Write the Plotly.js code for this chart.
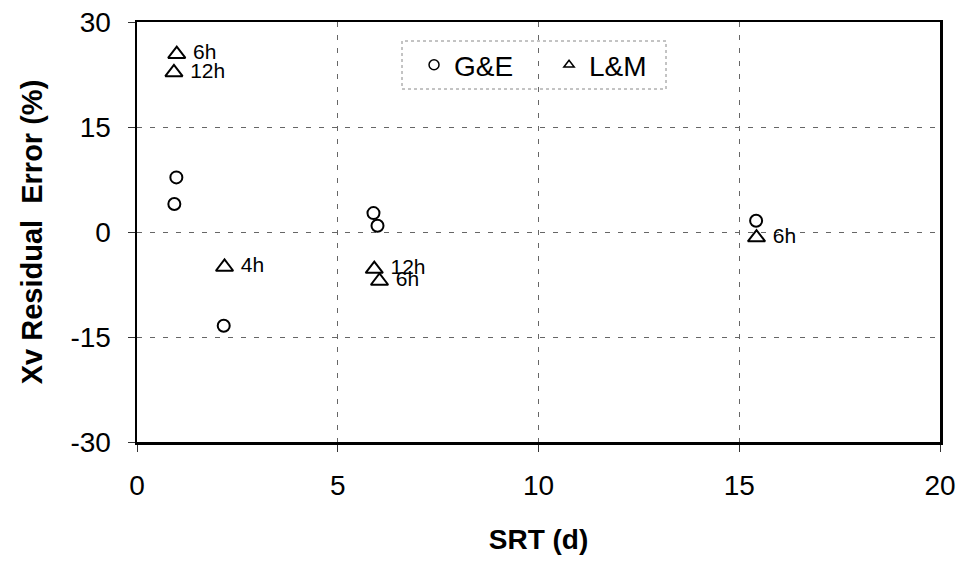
<!DOCTYPE html>
<html>
<head>
<meta charset="utf-8">
<script src="https://cdn.plot.ly/plotly-3.0.1.min.js"></script>
<style>html,body{margin:0;padding:0;background:#fff;}#chart{width:960px;height:564px;}</style>
</head>
<body>
<div id="chart"></div>
<script>
// G&E series
const geSRT = [0.98, 0.93, 2.16, 5.89, 5.99, 15.42];
const geErr = [7.8, 4.0, -13.4, 2.7, 0.9, 1.6];
// L&M series
const lmSRT = [0.99, 0.92, 2.18, 5.91, 6.04, 15.43];
const lmErr = [25.4, 22.8, -5.0, -5.3, -7.0, -0.8];
const lmLabels = ['6h', '12h', '4h', '12h', '6h', '6h'];

const xTicks = [0, 5, 10, 15, 20];
const yTicks = [-30, -15, 0, 15, 30];

const font = 'Liberation Sans, Arial, sans-serif';

const traces = [
  {
    x: geSRT, y: geErr, mode: 'markers', name: 'G&E', showlegend: false,
    marker: {symbol: 'circle-open', size: 12, color: '#000', line: {width: 2, color: '#000'}}
  },
  {
    x: lmSRT, y: lmErr, mode: 'markers+text', name: 'L&M', showlegend: false,
    text: lmLabels.map(function (s) { return '\u00a0' + s; }), textposition: 'middle right',
    textfont: {family: font, size: 21, color: '#000'},
    marker: {symbol: 'triangle-up-open', size: 15, color: '#000', line: {width: 2, color: '#000'}}
  },
  {
    x: [null], y: [null], mode: 'markers', name: 'G&E',
    marker: {symbol: 'circle-open', size: 10, color: '#000', line: {width: 1.5, color: '#000'}}
  },
  {
    x: [null], y: [null], mode: 'markers', name: 'L&M',
    marker: {symbol: 'triangle-up-open', size: 9, color: '#000', line: {width: 1.5, color: '#000'}}
  }
];

const layout = {
  width: 960, height: 564,
  margin: {l: 137, r: 20, t: 22, b: 122},
  paper_bgcolor: '#fff', plot_bgcolor: '#fff',
  font: {family: font, color: '#000', size: 20},
  showlegend: true,
  legend: {
    orientation: 'h', x: 0.345, y: 0.8976, xanchor: 'left', yanchor: 'middle',
    borderwidth: 0, bgcolor: 'rgba(0,0,0,0)',
    font: {family: font, size: 28, color: '#000'},
    entrywidth: 90
  },
  shapes: [
    {type: 'rect', xref: 'paper', yref: 'paper',
     x0: (402 - 137) / 803, x1: (666 - 137) / 803,
     y0: 1 - (89 - 22) / 420, y1: 1 - (41 - 22) / 420,
     line: {color: '#888', width: 1, dash: 'dot'}, fillcolor: 'rgba(0,0,0,0)'}
  ],
  xaxis: {
    range: [0, 20], tickvals: xTicks, ticktext: xTicks.map(String),
    showline: true, linecolor: '#000', linewidth: 2.5, mirror: true,
    ticks: 'outside', ticklen: 7, tickcolor: '#333', tickwidth: 1,
    showgrid: true, gridcolor: '#666', griddash: '5px,8px', gridwidth: 1,
    zeroline: false, ticklabelstandoff: 10,
    tickfont: {family: font, size: 28, color: '#000'},
    title: {text: '<b>SRT (d)</b>', font: {family: font, size: 28, color: '#000'}, standoff: 30}
  },
  yaxis: {
    range: [-30, 30], tickvals: yTicks, ticktext: yTicks.map(String),
    showline: true, linecolor: '#000', linewidth: 2.5, mirror: true,
    ticks: 'outside', ticklen: 7, tickcolor: '#333', tickwidth: 1,
    showgrid: true, gridcolor: '#666', griddash: '5px,8px', gridwidth: 1,
    zeroline: false, ticklabelstandoff: 11,
    tickfont: {family: font, size: 28, color: '#000'},
    title: {text: '<b>Xv Residual  Error (%)</b>', font: {family: font, size: 29, color: '#000'}, standoff: 20}
  }
};

Plotly.newPlot('chart', traces, layout, {staticPlot: true});
</script>
</body>
</html>
